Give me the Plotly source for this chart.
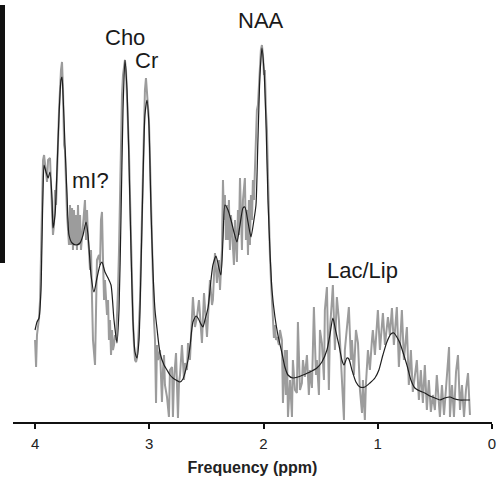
import plotly.graph_objects as go

# Raw (noisy) spectrum, grey trace: chemical shift (ppm) and intensity (a.u.)
raw_ppm = [4.000, 3.991, 3.983, 3.965, 3.956, 3.948, 3.939, 3.930, 3.921, 3.904, 3.895, 3.886, 3.869, 3.860,
           3.851, 3.843, 3.834, 3.825, 3.816, 3.808, 3.790, 3.773, 3.764, 3.755, 3.746, 3.738, 3.729, 3.720,
           3.711, 3.703, 3.694, 3.685, 3.676, 3.668, 3.659, 3.650, 3.641, 3.633, 3.624, 3.615, 3.606, 3.598,
           3.580, 3.563, 3.554, 3.545, 3.536, 3.528, 3.519, 3.510, 3.501, 3.493, 3.475, 3.466, 3.458, 3.440,
           3.431, 3.423, 3.414, 3.405, 3.396, 3.388, 3.379, 3.370, 3.361, 3.353, 3.344, 3.335, 3.326, 3.318,
           3.309, 3.300, 3.291, 3.283, 3.274, 3.265, 3.256, 3.248, 3.239, 3.230, 3.221, 3.213, 3.204, 3.195,
           3.186, 3.178, 3.169, 3.160, 3.151, 3.143, 3.134, 3.125, 3.116, 3.108, 3.099, 3.090, 3.081, 3.073,
           3.064, 3.055, 3.046, 3.038, 3.029, 3.020, 3.011, 3.003, 2.994, 2.985, 2.976, 2.968, 2.959, 2.950,
           2.941, 2.933, 2.924, 2.906, 2.889, 2.880, 2.871, 2.863, 2.845, 2.828, 2.819, 2.801, 2.793, 2.784,
           2.766, 2.749, 2.740, 2.731, 2.714, 2.696, 2.688, 2.670, 2.661, 2.644, 2.626, 2.618, 2.600, 2.583,
           2.565, 2.539, 2.521, 2.503, 2.495, 2.478, 2.469, 2.451, 2.443, 2.425, 2.408, 2.390, 2.381, 2.364,
           2.355, 2.346, 2.338, 2.329, 2.320, 2.311, 2.303, 2.294, 2.285, 2.276, 2.259, 2.250, 2.241, 2.233,
           2.224, 2.215, 2.206, 2.198, 2.189, 2.180, 2.171, 2.163, 2.154, 2.145, 2.136, 2.128, 2.119, 2.110,
           2.101, 2.093, 2.084, 2.075, 2.066, 2.058, 2.049, 2.040, 2.031, 2.023, 2.014, 2.005, 1.996, 1.988,
           1.979, 1.970, 1.961, 1.953, 1.944, 1.935, 1.926, 1.918, 1.909, 1.900, 1.891, 1.883, 1.865, 1.856,
           1.839, 1.830, 1.813, 1.804, 1.795, 1.786, 1.768, 1.751, 1.743, 1.725, 1.708, 1.699, 1.681, 1.664,
           1.655, 1.638, 1.620, 1.603, 1.594, 1.576, 1.559, 1.541, 1.533, 1.515, 1.506, 1.489, 1.471, 1.463,
           1.445, 1.428, 1.419, 1.401, 1.393, 1.375, 1.358, 1.340, 1.323, 1.296, 1.288, 1.270, 1.253, 1.235,
           1.226, 1.209, 1.191, 1.173, 1.156, 1.138, 1.130, 1.113, 1.104, 1.086, 1.069, 1.051, 1.043, 1.025,
           0.999, 0.981, 0.955, 0.937, 0.911, 0.894, 0.876, 0.859, 0.833, 0.815, 0.789, 0.771, 0.745, 0.728,
           0.710, 0.693, 0.675, 0.658, 0.640, 0.623, 0.605, 0.588, 0.570, 0.553, 0.535, 0.518, 0.500, 0.483,
           0.456, 0.438, 0.420, 0.403, 0.376, 0.368, 0.350, 0.333, 0.315, 0.298, 0.280, 0.263, 0.245, 0.228,
           0.210, 0.193]
raw_int = [82, 55, 87, 104, 122, 172, 222, 262, 267, 247, 240, 262, 264, 237,
           207, 187, 197, 232, 217, 252, 312, 352, 360, 332, 277, 272, 232, 207,
           192, 177, 217, 177, 214, 172, 212, 177, 207, 172, 217, 177, 207, 172,
           197, 222, 182, 212, 182, 172, 152, 172, 122, 82, 57, 122, 162, 167,
           157, 202, 210, 162, 122, 142, 127, 107, 122, 82, 102, 67, 92, 72,
           77, 87, 82, 102, 132, 172, 242, 292, 327, 347, 357, 362, 352, 327,
           302, 272, 227, 172, 132, 102, 77, 62, 60, 64, 77, 97, 122, 162,
           212, 262, 302, 332, 344, 330, 322, 302, 262, 212, 172, 132, 102, 82,
           19, 77, 62, 72, 20, 52, 67, 37, 25, 5, 52, 55, 5, 42,
           69, 4, 39, 47, 77, 42, 59, 52, 79, 62, 102, 125, 95, 105,
           122, 79, 129, 102, 85, 122, 142, 117, 122, 169, 139, 162, 132, 172,
           242, 202, 227, 182, 217, 182, 222, 172, 207, 192, 157, 202, 182, 160,
           212, 187, 244, 192, 172, 222, 237, 244, 182, 212, 167, 222, 177, 227,
           202, 242, 222, 247, 272, 312, 317, 342, 362, 372, 377, 367, 347, 352,
           312, 292, 247, 202, 167, 142, 122, 102, 84, 97, 82, 85, 77, 92,
           82, 19, 72, 27, 72, 5, 42, 5, 62, 32, 29, 100, 32, 39,
           62, 45, 67, 27, 52, 34, 115, 47, 62, 27, 92, 79, 42, 112,
           135, 32, 92, 122, 137, 72, 125, 102, 62, 2, 72, 92, 115, 62,
           82, 47, 92, 79, 32, 9, 42, 2, 37, 72, 52, 82, 92, 67,
           112, 72, 109, 77, 105, 87, 114, 77, 115, 55, 112, 62, 95, 37,
           72, 30, 47, 62, 22, 52, 19, 57, 12, 42, 10, 27, 12, 47,
           5, 37, 7, 32, 75, 5, 37, 5, 50, 67, 12, 37, 5, 32,
           49, 7]

# Fitted (smoothed) spectrum, black trace
fit_ppm = [4.000, 3.983, 3.965, 3.948, 3.939, 3.930, 3.921, 3.904, 3.886, 3.869, 3.851, 3.843, 3.825, 3.808,
           3.790, 3.773, 3.764, 3.755, 3.738, 3.720, 3.703, 3.676, 3.641, 3.606, 3.580, 3.554, 3.536, 3.510,
           3.484, 3.458, 3.431, 3.414, 3.388, 3.361, 3.335, 3.309, 3.283, 3.265, 3.248, 3.230, 3.213, 3.195,
           3.178, 3.160, 3.143, 3.125, 3.108, 3.090, 3.073, 3.055, 3.038, 3.020, 3.003, 2.985, 2.968, 2.950,
           2.933, 2.906, 2.871, 2.845, 2.819, 2.793, 2.766, 2.731, 2.705, 2.688, 2.661, 2.644, 2.618, 2.591,
           2.574, 2.548, 2.530, 2.513, 2.486, 2.460, 2.443, 2.416, 2.390, 2.373, 2.355, 2.338, 2.311, 2.285,
           2.259, 2.233, 2.206, 2.180, 2.163, 2.136, 2.110, 2.084, 2.066, 2.049, 2.031, 2.014, 1.996, 1.979,
           1.961, 1.944, 1.926, 1.900, 1.874, 1.839, 1.813, 1.786, 1.743, 1.699, 1.655, 1.594, 1.533, 1.489,
           1.445, 1.419, 1.393, 1.366, 1.340, 1.314, 1.296, 1.270, 1.253, 1.226, 1.191, 1.156, 1.113, 1.069,
           1.025, 0.990, 0.955, 0.920, 0.885, 0.859, 0.833, 0.806, 0.780, 0.745, 0.710, 0.675, 0.631, 0.588,
           0.544, 0.500, 0.456, 0.413, 0.369, 0.325, 0.281, 0.238, 0.194]
fit_int = [92, 100, 104, 132, 182, 232, 257, 250, 244, 250, 222, 194, 207, 252,
           307, 342, 345, 327, 277, 227, 187, 179, 177, 179, 187, 200, 187, 147,
           130, 144, 157, 160, 150, 144, 137, 102, 79, 112, 202, 312, 362, 332,
           262, 172, 102, 70, 64, 82, 152, 242, 307, 322, 297, 212, 152, 112,
           94, 69, 57, 52, 47, 44, 42, 40, 43, 49, 62, 75, 100, 106,
           104, 98, 95, 102, 114, 142, 157, 166, 154, 147, 182, 217, 212, 202,
           190, 180, 197, 214, 215, 200, 185, 202, 217, 282, 347, 374, 352, 302,
           222, 172, 132, 105, 87, 69, 55, 47, 44, 45, 47, 50, 54, 60,
           72, 87, 104, 90, 77, 62, 57, 64, 63, 52, 40, 35, 35, 39,
           44, 52, 67, 80, 88, 89, 85, 79, 70, 57, 42, 34, 31, 29,
           26, 24, 22, 24, 25, 23, 22, 22, 22]

x_ticks = [4, 3, 2, 1, 0]
x_title = "Frequency (ppm)"

peak_labels = ["Cho", "Cr", "NAA", "mI?", "Lac/Lip"]
label_ppm = [3.217, 3.024, 2.026, 3.519, 1.138]
label_int = [385, 362, 402, 242, 152]

fig = go.Figure()
fig.add_trace(go.Scatter(x=raw_ppm, y=raw_int, mode="lines",
                         line=dict(color="#9c9c9c", width=2), hoverinfo="skip", cliponaxis=False))
fig.add_trace(go.Scatter(x=fit_ppm, y=fit_int, mode="lines",
                         line=dict(color="#1e1e1e", width=1.2, shape="spline", smoothing=0.6),
                         hoverinfo="skip", cliponaxis=False))

for t, xp, yp in zip(peak_labels, label_ppm, label_int):
    fig.add_annotation(x=xp, y=yp, xref="x", yref="y", text=t, showarrow=False,
                       font=dict(family="Arial, Liberation Sans", size=22, color="#1a1a1a"),
                       xanchor="center", yanchor="middle")

# black strip at the far left (cropped panel edge)
fig.add_shape(type="rect", xref="paper", yref="paper",
              x0=-13 / 479, x1=-8 / 479, y0=1 - 263 / 422, y1=1 - 5 / 422,
              fillcolor="#111111", line=dict(width=0), layer="above")

fig.update_layout(
    width=499, height=483,
    margin=dict(l=13, r=7, t=0, b=61, autoexpand=False),
    paper_bgcolor="white", plot_bgcolor="white",
    showlegend=False,
    xaxis=dict(range=[4.193, 0], tickvals=x_ticks, ticktext=[str(v) for v in x_ticks],
               automargin=False,
               showgrid=False, zeroline=False, showline=True, linecolor="#111111", linewidth=1.5,
               ticks="outside", ticklen=5, tickwidth=1.5, tickcolor="#111111",
               ticklabelstandoff=2,
               tickfont=dict(family="Arial, Liberation Sans", size=15, color="#222222"),
               title=dict(text="<b>" + x_title + "</b>", standoff=11,
                          font=dict(family="Arial, Liberation Sans", size=16, color="#222222"))),
    yaxis=dict(range=[0, 422], visible=False, showgrid=False, zeroline=False, automargin=False),
)

fig.write_html("out.html", config={"displayModeBar": False},
               post_script="document.body.style.margin='0px';document.body.style.padding='0px';")
